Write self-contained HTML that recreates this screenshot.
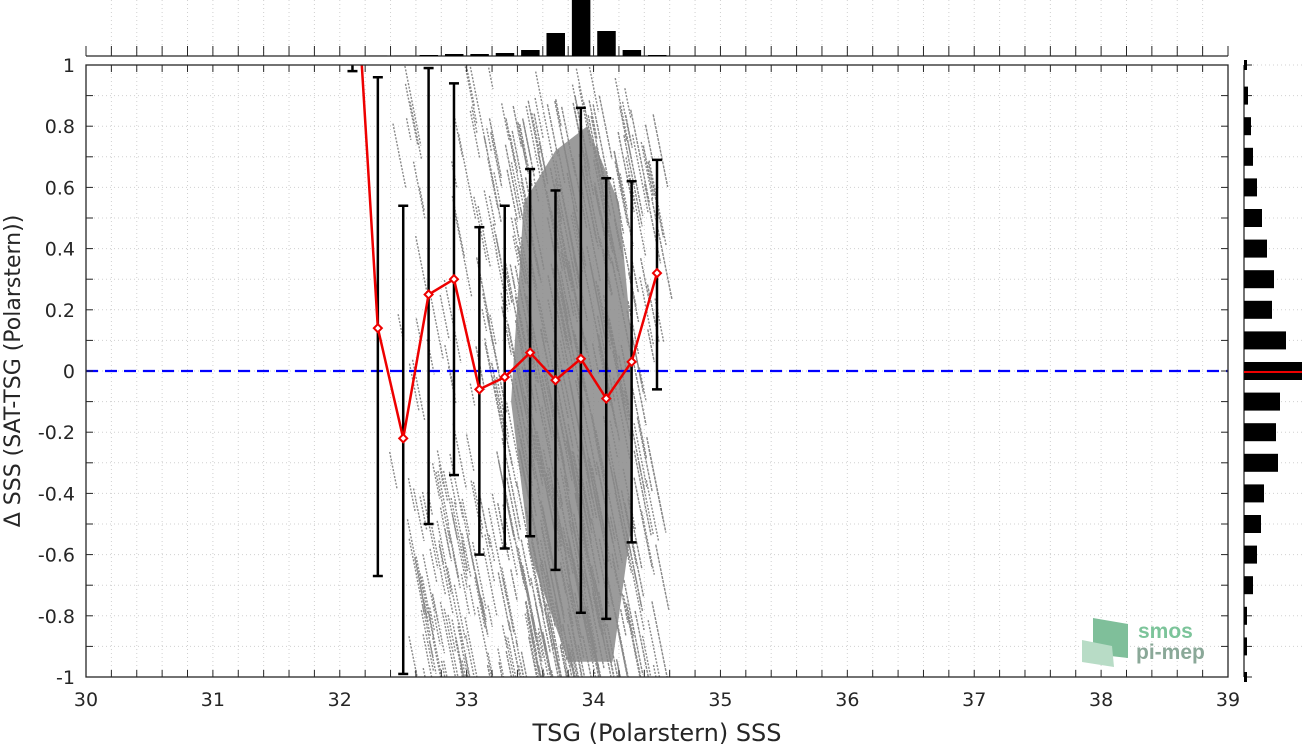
<!DOCTYPE html>
<html><head><meta charset="utf-8"><style>
body{margin:0;background:#fff;width:1302px;height:745px;overflow:hidden}
svg{display:block;font-family:"Liberation Sans",sans-serif}
</style></head><body>
<svg id="c" width="1302" height="745"></svg>
<script>
const binCenters=[32.1,32.3,32.5,32.7,32.9,33.1,33.3,33.5,33.7,33.9,34.1,34.3,34.5];
const meanVals=[1.5,0.14,-0.22,0.25,0.30,-0.06,-0.02,0.06,-0.03,0.04,-0.09,0.03,0.32];
const upperVals=[2.0,0.96,0.54,0.99,0.94,0.47,0.54,0.66,0.59,0.86,0.63,0.62,0.69];
const lowerVals=[0.98,-0.67,-0.99,-0.50,-0.34,-0.60,-0.58,-0.54,-0.65,-0.79,-0.81,-0.56,-0.06];
const topHistX=[32.3,32.5,32.7,32.9,33.1,33.3,33.5,33.7,33.9,34.1,34.3,34.5];
const topHistH=[0.3,0.3,1,2,2,3,6,23,56,25,6,1];
const rightHistY=[1.0,0.9,0.8,0.7,0.6,0.5,0.4,0.3,0.2,0.1,0,-0.1,-0.2,-0.3,-0.4,-0.5,-0.6,-0.7,-0.8,-0.9,-1.0];
const rightHistW=[3,4,7,9,13,18,23,30,28,42,58,36,32,34,20,17,13,9,3,3,3];
const xTicks=[30,31,32,33,34,35,36,37,38,39];
const yTicks=[1,0.8,0.6,0.4,0.2,0,-0.2,-0.4,-0.6,-0.8,-1];

const L=86,R=1228,T=65,B=677;
const X=v=>L+(v-30)/9*(R-L);
const Y=v=>T+(1-v)/2*(B-T);
const svg=document.getElementById('c');
const NS='http://www.w3.org/2000/svg';
function el(tag,attrs,parent){const e=document.createElementNS(NS,tag);for(const k in attrs)e.setAttribute(k,attrs[k]);(parent||svg).appendChild(e);return e;}

const defs=el('defs',{});
const cp=el('clipPath',{id:'pc'},defs);el('rect',{x:L,y:T,width:R-L,height:B-T},cp);

const grid=el('g',{stroke:'#d0d0d0','stroke-width':1,'stroke-dasharray':'1,3'});

for(let v=30.2;v<39;v+=0.2)el('line',{x1:X(v),x2:X(v),y1:T,y2:B},grid);
for(let v=-0.9;v<1;v+=0.1)el('line',{x1:L,x2:R,y1:Y(v),y2:Y(v)},grid);
for(let v=-0.9;v<1;v+=0.1)el('line',{x1:1245,x2:1302,y1:Y(v),y2:Y(v)},grid);
for(let v=30.2;v<39;v+=0.2)el('line',{x1:X(v),x2:X(v),y1:0,y2:55},grid);

// scatter texture (decorative streaks)
const sc=el('g',{stroke:'#888','stroke-width':1.4,'clip-path':'url(#pc)'});

let seed=7;const rnd=()=>{seed=(seed*16807)%2147483647;return seed/2147483647;};
function streaks(n,x0,x1,ytop,ybot,len,dash){for(let i=0;i<n;i++){const x=x0+(rnd()+rnd())/2*(x1-x0);const y=ytop+rnd()*(ybot-ytop);const l=len*(0.3+rnd());el('line',{x1:X(x),y1:Y(y),x2:X(x)+l*0.2,y2:Y(y)+l,'stroke-dasharray':dash},sc);}}
el('path',{d:`M${X(33.45)},${Y(0.55)} L${X(33.7)},${Y(0.72)} L${X(33.95)},${Y(0.8)} L${X(34.2)},${Y(0.55)} L${X(34.3)},${Y(0.1)} L${X(34.3)},${Y(-0.5)} L${X(34.15)},${Y(-0.95)} L${X(33.8)},${Y(-0.95)} L${X(33.5)},${Y(-0.6)} L${X(33.35)},${Y(-0.1)} Z`,fill:'#8a8a8a',opacity:0.85,stroke:'none'},sc);
streaks(220,32.3,34.7,1.0,-1.05,70,'2,1.5');
streaks(350,33.0,34.6,0.9,-1.0,80,'3,1');
streaks(80,32.4,33.2,-0.3,-1.05,60,'2,1.5');

const zl=el('line',{x1:L,x2:R,y1:Y(0),y2:Y(0),stroke:'#0000ff','stroke-width':2.2,'stroke-dasharray':'12,7'});


const eb=el('g',{stroke:'#000','stroke-width':2.5,'clip-path':'url(#pc)'});

binCenters.forEach((c,i)=>{const x=X(c);el('line',{x1:x,x2:x,y1:Y(upperVals[i]),y2:Y(lowerVals[i])},eb);
el('line',{x1:x-5,x2:x+5,y1:Y(upperVals[i]),y2:Y(upperVals[i])},eb);el('line',{x1:x-5,x2:x+5,y1:Y(lowerVals[i]),y2:Y(lowerVals[i])},eb);});

const mg=el('g',{'clip-path':'url(#pc)'});
const ml=el('polyline',{points:binCenters.map((c,i)=>X(c)+','+Y(meanVals[i])).join(' '),fill:'none',stroke:'#ee0000','stroke-width':2.5},mg);

binCenters.forEach((c,i)=>{const m=el('path',{d:`M${X(c)},${Y(meanVals[i])-4} l4,4 l-4,4 l-4,-4 z`,fill:'#fff',stroke:'#ee0000','stroke-width':2},mg);
});

const ax=el('rect',{x:L,y:T,width:R-L,height:B-T,fill:'none',stroke:'#262626','stroke-width':1.3});

const tk=el('g',{stroke:'#262626','stroke-width':1});
for(let v=30.2;v<39;v+=0.2){const x=X(v);el('line',{x1:x,x2:x,y1:B,y2:B-7},tk);el('line',{x1:x,x2:x,y1:T,y2:T+7},tk);}
for(let v=-0.9;v<1;v+=0.1){const y=Y(v);el('line',{x1:L,x2:L+7,y1:y,y2:y},tk);el('line',{x1:R,x2:R-7,y1:y,y2:y},tk);}

xTicks.forEach(v=>{const t=el('text',{x:X(v),y:706,'text-anchor':'middle','font-size':19,'font-family':'DejaVu Sans, sans-serif',fill:'#262626'});t.textContent=v;
});
yTicks.forEach(v=>{const t=el('text',{x:75,y:Y(v)+7,'text-anchor':'end','font-size':19,'font-family':'DejaVu Sans, sans-serif',fill:'#262626'});t.textContent=(Math.abs(v)<1e-9?'0':String(v));
});
const xt=el('text',{x:657,y:741,'text-anchor':'middle','font-size':24,'font-family':'DejaVu Sans, sans-serif',fill:'#262626'});xt.textContent='TSG (Polarstern) SSS';

const yt=el('text',{x:0,y:0,'text-anchor':'middle','font-size':22,'font-family':'DejaVu Sans, sans-serif',fill:'#262626',transform:`translate(20,${Y(0)}) rotate(-90)`});yt.textContent='Δ SSS (SAT-TSG (Polarstern))';


const th=el('g',{});
el('line',{x1:L,x2:R,y1:56,y2:56,stroke:'#262626','stroke-width':1.3},th);
for(let v=30;v<=39.01;v+=0.2)el('line',{x1:X(v),x2:X(v),y1:56,y2:46,stroke:'#262626'},th);
topHistX.forEach((c,i)=>{const b=el('rect',{x:X(c)-9,y:56-topHistH[i],width:18.5,height:topHistH[i],fill:'#000'},th);
});

const rh=el('g',{});
el('line',{x1:1244,x2:1244,y1:T,y2:B,stroke:'#262626','stroke-width':1.3},rh);
for(let v=-1;v<=1.01;v+=0.1)el('line',{x1:1244,x2:1252,y1:Y(v),y2:Y(v),stroke:'#262626'},rh);
rightHistY.forEach((c,i)=>{const h=Math.abs(c)>0.95?10:18;const b=el('rect',{x:1244,y:Y(c)-h/2,width:rightHistW[i],height:h,fill:'#000'},rh);
});
el('line',{x1:1244,x2:1302,y1:Y(0)+1,y2:Y(0)+1,stroke:'#ee0000','stroke-width':2},rh);

const lg=el('g',{});
el('path',{d:'M1093,618 L1128,624 L1128,658 L1093,654 Z',fill:'#7fbf9a'},lg);
el('path',{d:'M1082,640 L1112,646 L1114,667 L1082,662 Z',fill:'#b8dcc6'},lg);
const t1=el('text',{x:1138,y:638,'font-size':21,'font-weight':'bold',fill:'#7cc49a'},lg);t1.textContent='smos';
const t2=el('text',{x:1136,y:659,'font-size':21,'font-weight':'bold',fill:'#8aa898'},lg);t2.textContent='pi-mep';
</script>
</body></html>
